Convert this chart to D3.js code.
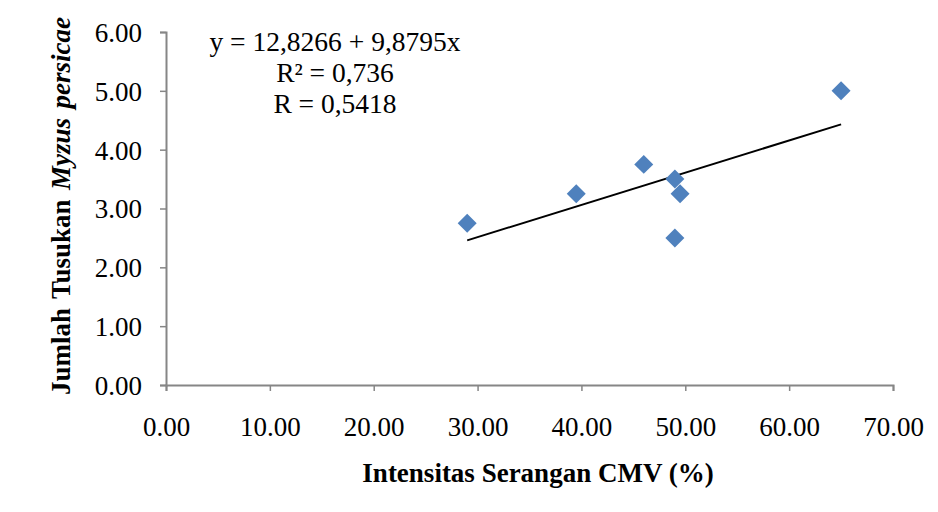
<!DOCTYPE html>
<html>
<head>
<meta charset="utf-8">
<script src="https://cdn.jsdelivr.net/npm/d3@7"></script>
<style>
  body { margin: 0; background: #fff; }
  text { font-family: "Liberation Serif", "Times New Roman", serif; fill: #000; }
</style>
</head>
<body>
<div id="chart"></div>
<script>
// data
var intensitas = [29.0, 39.5, 46.0, 49.0, 49.5, 49.0, 65.0];
var tusukan = [2.75, 3.25, 3.75, 3.50, 3.25, 2.50, 5.00];
var xTicks = [0, 10, 20, 30, 40, 50, 60, 70];
var yTicks = [0, 1, 2, 3, 4, 5, 6];
var eqLines = ["y = 12,8266 + 9,8795x", "R\u00b2 = 0,736", "R = 0,5418"];

var width = 938, height = 512;
var margin = {top: 32, right: 45, bottom: 127, left: 166};
var w = width - margin.left - margin.right,
  h = height - margin.top - margin.bottom;

var svg = d3.select("#chart").append("svg")
  .attr("width", width).attr("height", height);
var g = svg.append("g")
  .attr("transform", "translate(" + margin.left + "," + margin.top + ")");

var x = d3.scaleLinear().domain([0, 70]).range([0, w]);
var y = d3.scaleLinear().domain([0, 6]).range([h, 0]);

/* axes */
var xAxis = g.append("g")
  .attr("transform", "translate(0," + h + ")")
  .call(d3.axisBottom(x).tickValues(xTicks).tickSize(6).tickPadding(26)
    .tickFormat(d3.format(".2f")));
var yAxis = g.append("g")
  .call(d3.axisLeft(y).tickValues(yTicks).tickSize(6).tickPadding(18)
    .tickFormat(d3.format(".2f")));
[xAxis, yAxis].forEach(function(a) {
  a.attr("font-family", null).attr("font-size", null);
  a.select(".domain").attr("stroke", "#868686").attr("stroke-width", 2);
  a.selectAll(".tick line").attr("stroke", "#868686").attr("stroke-width", 1.5);
  a.selectAll(".tick text")
    .attr("font-family", "Liberation Serif")
    .style("font-family", "'Liberation Serif', serif")
    .style("font-size", "27px").attr("fill", "#000");
});
yAxis.selectAll(".tick text").attr("dy", "0.35em");

/* trend line: least squares from the points */
var mx = d3.mean(intensitas), my = d3.mean(tusukan);
var sxy = 0, sxx = 0;
for (var i = 0; i < intensitas.length; i++) {
  sxy += (intensitas[i] - mx) * (tusukan[i] - my);
  sxx += (intensitas[i] - mx) * (intensitas[i] - mx);
}
var slope = sxy / sxx, icpt = my - slope * mx;
var x0 = d3.min(intensitas), x1 = d3.max(intensitas);
g.append("line")
  .attr("x1", x(x0)).attr("y1", y(icpt + slope * x0))
  .attr("x2", x(x1)).attr("y2", y(icpt + slope * x1))
  .attr("stroke", "#000").attr("stroke-width", 2);

/* points */
var sym = d3.symbol().type(d3.symbolDiamond2).size(230);
g.selectAll(".pt")
  .data(intensitas)
  .enter().append("path")
  .attr("class", "pt")
  .attr("d", sym)
  .attr("fill", "#4F81BD")
  .attr("transform", function(d, i) {
    return "translate(" + x(d) + "," + y(tusukan[i]) + ")";
  });

/* equation box */
var eq = svg.append("g").attr("transform", "translate(335,0)");
eq.selectAll("text")
  .data(eqLines)
  .enter().append("text")
  .attr("x", 0)
  .attr("y", function(d, i) { return 51 + i * 31; })
  .attr("text-anchor", "middle")
  .style("font-size", "27.5px")
  .text(function(d) { return d; });

/* axis titles */
svg.append("text")
  .attr("x", 538).attr("y", 482)
  .attr("text-anchor", "middle")
  .style("font-size", "27px").style("font-weight", "bold")
  .text("Intensitas Serangan CMV (%)");

var yt = svg.append("text")
  .attr("transform", "translate(70,206) rotate(-90)")
  .attr("text-anchor", "middle")
  .style("font-size", "27px").style("font-weight", "bold");
yt.append("tspan").text("Jumlah Tusukan ");
yt.append("tspan").style("font-style", "italic").text("Myzus persicae");
// spread the words so the title runs the full height, as in the original
var natural = yt.node().getComputedTextLength();
var gap = Math.max(0, (378 - natural) / 3);
yt.style("word-spacing", gap + "px");
</script>
</body>
</html>
